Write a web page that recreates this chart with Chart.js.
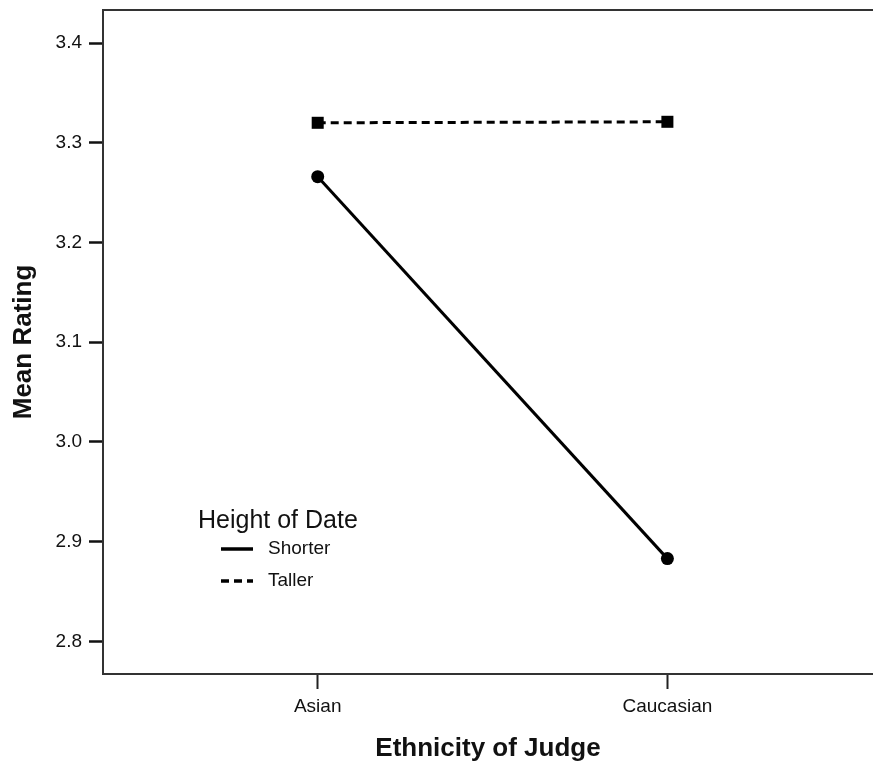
<!DOCTYPE html>
<html>
<head>
<meta charset="utf-8">
<script src="https://cdn.jsdelivr.net/npm/chart.js@4/dist/chart.umd.min.js"></script>
<style>
  html, body { margin: 0; padding: 0; background: #fff; overflow: hidden; }
  canvas { display: block; }
</style>
</head>
<body>
<canvas id="c" width="873" height="768"></canvas>
<script>
// Mean rating of a date by ethnicity of the judge, split by height of date
const categories = ['Asian', 'Caucasian'];
const shorterValues = [3.266, 2.883];
const tallerValues = [3.320, 3.321];
const yTicks = [2.8, 2.9, 3.0, 3.1, 3.2, 3.3, 3.4];
const legendTitle = 'Height of Date';
const seriesNames = ['Shorter', 'Taller'];

const FONT = '"Liberation Sans", Arial, sans-serif';
const INK = '#111';

const toPoints = vals => vals.map((v, i) => ({ x: i, y: v }));

// Top frame line of the plot area
const topFrame = {
  id: 'topFrame',
  afterDraw(chart) {
    const { ctx, chartArea } = chart;
    ctx.save();
    ctx.strokeStyle = '#333';
    ctx.lineWidth = 2;
    ctx.beginPath();
    ctx.moveTo(chartArea.left - 1, chartArea.top);
    ctx.lineTo(chartArea.right, chartArea.top);
    ctx.stroke();
    ctx.restore();
  }
};

// Legend drawn inside the plot, lower-left
const insideLegend = {
  id: 'insideLegend',
  afterDatasetsDraw(chart) {
    const { ctx, chartArea } = chart;
    const x0 = chartArea.left + 95;
    const y0 = chartArea.top + 511;
    ctx.save();
    ctx.fillStyle = INK;
    ctx.textBaseline = 'middle';
    ctx.textAlign = 'left';
    ctx.font = '25px ' + FONT;
    ctx.fillText(legendTitle, x0, y0);
    chart.data.datasets.forEach((ds, i) => {
      const y = y0 + 28 + i * 32;
      ctx.beginPath();
      ctx.strokeStyle = ds.borderColor;
      ctx.lineWidth = 3.5;
      ctx.setLineDash(ds.borderDash || []);
      ctx.moveTo(x0 + 23, y);
      ctx.lineTo(x0 + 55, y);
      ctx.stroke();
      ctx.setLineDash([]);
      ctx.font = '19px ' + FONT;
      ctx.fillText(seriesNames[i], x0 + 70, y);
    });
    ctx.restore();
  }
};

new Chart(document.getElementById('c'), {
  type: 'line',
  data: {
    datasets: [
      {
        label: seriesNames[0],
        data: toPoints(shorterValues),
        borderColor: '#000',
        backgroundColor: '#000',
        borderWidth: 3,
        pointStyle: 'circle',
        pointRadius: 6.5,
        pointBorderWidth: 0,
        tension: 0
      },
      {
        label: seriesNames[1],
        data: toPoints(tallerValues),
        borderColor: '#000',
        backgroundColor: '#000',
        borderWidth: 3,
        borderDash: [8, 5],
        pointStyle: 'rect',
        pointRadius: 8.5,
        pointBorderWidth: 0,
        tension: 0
      }
    ]
  },
  options: {
    responsive: false,
    animation: false,
    layout: { autoPadding: false, padding: { top: 10, right: 0, left: 0, bottom: 0 } },
    plugins: {
      legend: { display: false },
      tooltip: { enabled: false }
    },
    scales: {
      x: {
        type: 'linear',
        min: -0.614,
        max: 1.588,
        afterBuildTicks(scale) {
          scale.ticks = categories.map((_, i) => ({ value: i }));
        },
        afterFit(scale) {
          scale.height = 94;
          scale.paddingLeft = 0;
          scale.paddingRight = 0;
        },
        ticks: {
          callback: v => categories[v],
          font: { family: FONT, size: 19 },
          color: INK,
          padding: 6,
          maxRotation: 0
        },
        grid: {
          drawOnChartArea: false,
          drawTicks: true,
          tickLength: 15,
          tickWidth: 2,
          tickColor: '#222'
        },
        border: { display: true, color: '#333', width: 2 },
        title: {
          display: true,
          text: 'Ethnicity of Judge',
          font: { family: FONT, size: 26, weight: 'bold' },
          color: INK,
          padding: { top: 0, bottom: 4 }
        }
      },
      y: {
        type: 'linear',
        min: 2.7673,
        max: 3.4331,
        afterBuildTicks(scale) {
          scale.ticks = yTicks.map(v => ({ value: v }));
        },
        afterFit(scale) {
          scale.width = 103;
          scale.paddingTop = 0;
          scale.paddingBottom = 0;
        },
        ticks: {
          callback: v => v.toFixed(1),
          font: { family: FONT, size: 19 },
          color: INK,
          padding: 7
        },
        grid: {
          drawOnChartArea: false,
          drawTicks: true,
          tickLength: 14,
          tickWidth: 2.5,
          tickColor: '#111'
        },
        border: { display: true, color: '#333', width: 2 },
        title: {
          display: true,
          text: 'Mean Rating',
          font: { family: FONT, size: 26, weight: 'bold' },
          color: INK,
          padding: { top: 8, bottom: 0 }
        }
      }
    }
  },
  plugins: [insideLegend, topFrame]
});
</script>
</body>
</html>
